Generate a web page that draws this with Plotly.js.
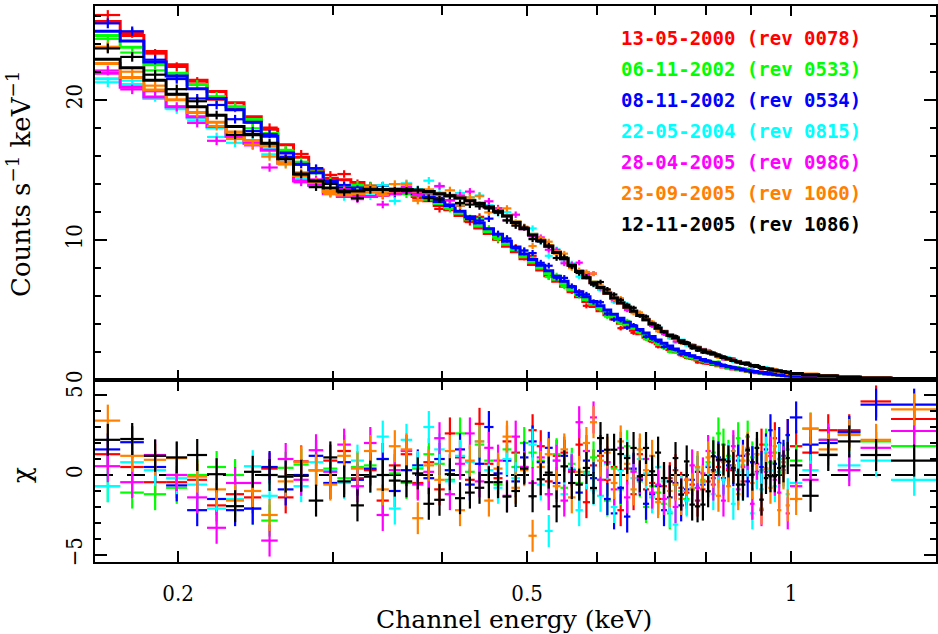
<!DOCTYPE html>
<html><head><meta charset="utf-8">
<script src="https://cdn.plot.ly/plotly-3.0.1.min.js"></script>
<style>html,body{margin:0;padding:0;background:#fff}#chart{width:938px;height:634px}</style>
</head><body><div id="chart"></div>
<script>
// ---- data ----
const binEdges = [
0.1608,0.1718,0.1828,0.1938,0.2048,0.2158,0.2268,0.2378,0.2488,0.2598,
0.2708,0.2818,0.2928,0.3038,0.3148,0.3258,0.3368,0.3478,0.3588,0.3698,
0.3808,0.3918,0.4028,0.4138,0.4248,0.4358,0.4468,0.4578,0.4688,0.4798,
0.4908,0.5018,0.5128,0.5238,0.5348,0.5458,0.5568,0.5678,0.5788,0.5898,
0.6008,0.6118,0.6228,0.6338,0.6448,0.6558,0.6668,0.6778,0.6888,0.6998,
0.7108,0.7218,0.7328,0.7438,0.7548,0.7658,0.7768,0.7878,0.7988,0.8098,
0.8208,0.8318,0.8428,0.8538,0.8648,0.8758,0.8868,0.8978,0.9088,0.9198,
0.9308,0.9418,0.9528,0.9638,0.9748,0.9858,0.9968,
1.030,1.075,1.130,1.200,1.300,1.463];

const errCounts = [
0.35,0.34,0.33,0.33,0.32,0.31,0.31,0.30,0.30,0.29,
0.28,0.27,0.27,0.27,0.27,0.27,0.27,0.27,0.27,0.26,
0.26,0.26,0.26,0.25,0.25,0.25,0.24,0.24,0.23,0.23,
0.22,0.22,0.21,0.21,0.20,0.20,0.19,0.19,0.18,0.18,
0.17,0.17,0.16,0.16,0.15,0.15,0.14,0.14,0.13,0.13,
0.12,0.12,0.12,0.11,0.11,0.10,0.10,0.10,0.09,0.09,
0.09,0.08,0.08,0.08,0.07,0.07,0.07,0.07,0.06,0.06,
0.06,0.06,0.05,0.05,0.05,0.05,
0.035,0.028,0.022,0.017,0.013,0.009];

const seriesLabels = ['13-05-2000 (rev 0078)','06-11-2002 (rev 0533)','08-11-2002 (rev 0534)',
  '22-05-2004 (rev 0815)','28-04-2005 (rev 0986)','23-09-2005 (rev 1060)','12-11-2005 (rev 1086)'];
const seriesColors = ['#ff0000','#00ff00','#0000ff','#00ffff','#ff00ff','#ff8000','#000000'];

const modelRed = [
25.6,24.6,23.45,22.5,21.4,20.6,19.8,18.8,17.9,16.8,
15.9,15.0,14.4,14.3,14.1,13.8,13.6,13.5,13.35,13.1,
12.8,12.45,12.15,11.75,11.35,10.85,10.45,10.05,9.55,9.15,
8.65,8.25,7.85,7.45,7.05,6.7,6.3,5.95,5.6,5.25,
4.95,4.65,4.35,4.05,3.8,3.55,3.3,3.05,2.8,2.58,
2.38,2.18,2.0,1.85,1.7,1.56,1.42,1.3,1.2,1.1,
1.01,0.93,0.86,0.79,0.73,0.67,0.61,0.56,0.51,0.47,
0.43,0.4,0.37,0.34,0.31,0.28,
0.24,0.2,0.16,0.12,0.09,0.07];
const modelGreen = [
24.6,23.75,22.5,21.9,21.1,20.1,19.5,18.6,17.6,16.3,
15.4,14.8,14.1,13.9,13.8,13.7,13.6,13.5,13.4,13.2,
12.9,12.6,12.3,11.9,11.5,11.0,10.6,10.2,9.7,9.3,
8.8,8.4,8.0,7.6,7.2,6.85,6.45,6.1,5.75,5.4,
5.1,4.8,4.5,4.2,3.95,3.7,3.45,3.2,2.95,2.7,
2.5,2.3,2.1,1.95,1.8,1.65,1.5,1.38,1.27,1.17,
1.07,0.98,0.9,0.83,0.76,0.7,0.64,0.58,0.53,0.49,
0.45,0.41,0.38,0.35,0.32,0.29,
0.25,0.21,0.17,0.13,0.10,0.07];
const modelBlue = [
24.9,24.2,22.7,21.7,20.8,20.1,19.3,18.4,17.4,16.2,
15.4,14.8,14.2,13.7,13.7,13.7,13.6,13.55,13.45,13.3,
13.05,12.75,12.45,12.05,11.65,11.2,10.8,10.4,9.9,9.5,
9.0,8.6,8.2,7.8,7.4,7.05,6.65,6.3,5.95,5.6,
5.3,5.0,4.7,4.4,4.12,3.86,3.6,3.35,3.1,2.85,
2.63,2.42,2.22,2.05,1.9,1.74,1.59,1.46,1.34,1.23,
1.13,1.03,0.95,0.87,0.8,0.73,0.67,0.61,0.56,0.51,
0.47,0.43,0.39,0.36,0.33,0.3,
0.26,0.22,0.17,0.13,0.1,0.07];
const modelCyan = [
21.5,21.1,20.1,19.4,18.7,18.0,17.4,16.9,16.5,15.5,
14.4,13.9,13.4,13.2,13.2,13.15,13.25,13.35,13.45,13.5,
13.45,13.35,13.2,13.05,12.85,12.65,12.4,12.1,11.75,11.3,
10.85,10.4,10.0,9.6,9.15,8.7,8.25,7.8,7.35,7.0,
6.65,6.25,5.9,5.55,5.25,4.95,4.65,4.35,4.05,3.75,
3.5,3.25,3.05,2.85,2.65,2.5,2.35,2.2,2.05,1.9,
1.76,1.64,1.53,1.43,1.33,1.23,1.14,1.06,0.98,0.91,
0.84,0.78,0.72,0.66,0.6,0.55,
0.47,0.39,0.3,0.21,0.15,0.1];
const modelMagenta = [
21.9,20.9,20.2,19.5,18.8,18.1,17.4,16.9,16.4,15.5,
14.2,13.9,13.3,13.1,13.1,13.1,13.2,13.3,13.4,13.4,
13.35,13.25,13.15,13.0,12.8,12.6,12.35,12.05,11.7,11.25,
10.8,10.35,9.95,9.55,9.1,8.65,8.2,7.75,7.3,6.95,
6.6,6.2,5.85,5.5,5.2,4.9,4.6,4.3,4.0,3.7,
3.45,3.2,3.0,2.8,2.6,2.45,2.3,2.15,2.0,1.85,
1.72,1.6,1.5,1.4,1.3,1.2,1.12,1.04,0.96,0.89,
0.82,0.76,0.7,0.64,0.59,0.54,
0.46,0.38,0.29,0.2,0.14,0.1];
const modelOrange = [
22.6,21.6,20.7,20.0,19.1,18.4,17.7,17.1,16.7,15.5,
14.6,14.1,13.45,13.2,13.3,13.4,13.45,13.5,13.55,13.5,
13.45,13.3,13.15,13.0,12.8,12.6,12.35,12.05,11.7,11.3,
10.85,10.4,10.0,9.6,9.15,8.7,8.25,7.8,7.35,7.0,
6.6,6.2,5.85,5.5,5.2,4.9,4.6,4.3,4.0,3.7,
3.45,3.2,3.0,2.8,2.6,2.45,2.3,2.15,2.0,1.85,
1.72,1.6,1.5,1.4,1.3,1.2,1.12,1.04,0.96,0.89,
0.82,0.76,0.7,0.64,0.59,0.54,
0.46,0.38,0.29,0.2,0.14,0.1];
const modelBlack = [
22.9,22.3,21.4,20.4,19.5,18.9,18.1,17.5,16.9,15.8,
14.7,14.2,13.7,13.5,13.5,13.6,13.6,13.6,13.6,13.55,
13.45,13.3,13.15,13.0,12.8,12.6,12.35,12.05,11.7,11.25,
10.8,10.35,9.95,9.55,9.1,8.65,8.2,7.75,7.3,6.95,
6.6,6.2,5.85,5.5,5.2,4.9,4.6,4.3,4.0,3.7,
3.45,3.2,3.0,2.8,2.6,2.45,2.3,2.15,2.0,1.85,
1.72,1.6,1.5,1.4,1.3,1.2,1.12,1.04,0.96,0.89,
0.82,0.76,0.7,0.64,0.59,0.54,
0.46,0.38,0.29,0.2,0.14,0.1];

const chiRed = [
1.3,0.5,-0.45,-0.45,-0.3,-1.9,-1.2,-1.4,0.4,-1.4,0.85,0.3,
0.9,1.5,-0.2,0.3,-1.6,0.6,1.3,-0.5,0.8,-0.9,2.6,1.1,-0.3,3.2,0.7,-0.2,2.1,1.4,0.5,
2.8,1.8,-0.4,1.2,1.4,0.2,1.9,-1.7,0.6,1.2,-0.3,0.5,-2.2,0.4,-1.2,1.3,-0.9,-0.5,-1.5,-0.7,-0.2,0.3,-0.8,-1.1,-0.6,-1.6,-0.9,-0.4,-0.2,0.5,0.9,0.3,
0.6,1.2,-0.4,1.5,0.8,0.2,1.9,0.4,1.2,2.3,1.0,0.3,2.5,
1.8,1.4,2.8,2.8,4.6,3.5];
const chiGreen = [
-0.7,-1.1,-1.2,-0.8,0.0,0.5,0.0,-2.1,-2.85,0.45,0.65,0.3,
0.4,-0.2,0.5,0.6,1.0,0.1,-0.5,0.4,1.3,0.7,-0.3,2.6,0.2,1.9,0.9,-0.6,1.6,0.5,2.0,
1.4,0.9,-1.2,1.3,-0.8,0.7,-0.5,0.2,1.1,-0.3,-1.6,0.4,-0.9,1.8,0.3,-0.4,-2.0,-0.7,-1.1,-1.8,-2.4,-0.6,-1.0,-1.5,-0.9,0.2,-0.3,0.8,1.4,2.6,1.9,1.2,
1.5,2.3,0.6,2.4,1.1,1.7,0.3,1.9,0.8,1.4,0.2,1.0,1.6,
0.9,2.9,2.2,2.6,2.1,1.8];
const chiBlue = [
1.6,2.05,0.5,-0.65,-2.2,-1.5,-2.2,-2.1,0.5,-0.9,0.0,1.2,
-0.5,0.8,-0.3,0.4,1.0,-1.0,0.3,0.6,-0.2,1.0,0.3,1.6,-0.6,0.7,3.0,0.1,0.9,-0.4,1.1,
2.1,0.8,1.7,-0.5,1.2,0.3,-1.1,0.9,-0.2,1.5,-1.5,-2.4,-0.8,-2.6,0.4,-0.3,-1.8,-1.2,-0.7,-2.2,-1.4,-0.5,-1.9,-0.9,-0.3,0.2,-0.6,0.5,0.3,1.1,-0.2,0.6,
0.3,0.9,1.2,-0.4,0.8,1.3,0.5,1.6,2.8,0.7,2.0,1.2,2.5,
3.6,1.9,2.0,2.7,4.4,4.4];
const chiCyan = [
-0.7,0.8,0.3,-0.2,-0.6,-2.1,-1.5,0.55,-1.3,-0.1,-0.7,0.8,
0.3,-0.5,0.9,-0.1,2.4,-2.1,2.2,0.5,3.0,1.6,-0.4,1.2,0.8,2.1,0.3,-0.8,1.0,-0.2,0.5,
1.9,-0.6,-3.5,0.9,-1.2,0.4,-2.2,0.1,-0.9,-1.3,0.7,-2.0,0.3,1.2,-0.2,1.0,0.1,-1.4,0.5,-0.4,-2.3,-3.1,-1.0,-1.6,-0.8,0.4,-0.5,0.6,-1.2,0.2,-0.3,1.0,
-1.8,0.2,-0.6,0.9,-2.4,0.1,-0.9,1.4,0.3,-0.7,1.0,0.2,-1.2,
-0.5,0.3,1.3,0.6,0.9,-0.3];
const chiMagenta = [
0.55,-0.45,1.25,0.0,-1.4,-3.3,-0.5,-0.5,-4.1,1.0,-0.3,1.55,
0.2,1.9,-0.7,2.0,-2.5,0.3,1.5,-0.6,0.2,2.3,-1.2,0.7,2.6,-0.4,1.7,0.9,-1.3,2.4,0.5,
-0.5,1.1,-1.2,0.9,-1.6,0.3,3.3,1.5,3.6,-0.3,0.8,-0.9,1.7,-1.4,0.2,-0.2,1.0,-1.1,-0.6,-1.5,-0.4,-2.0,-1.2,-0.3,0.6,-0.8,0.1,1.5,-0.6,0.9,-1.6,0.4,
1.8,-0.9,0.5,1.3,-1.8,0.7,-2.2,0.2,1.4,-0.3,-1.1,0.8,-2.4,
-0.7,-0.3,2.2,0.3,1.7,2.75];
const chiOrange = [
3.4,1.2,0.95,1.05,-0.1,-0.9,-1.6,-1.0,-2.5,-0.4,0.8,0.3,
-0.6,1.2,0.4,1.5,-0.9,1.8,1.6,-2.7,0.6,-0.3,1.5,-2.2,0.9,2.1,-1.6,0.4,2.4,-0.8,0.3,
-3.8,0.5,1.3,-0.7,1.6,-1.4,0.2,2.0,3.3,0.9,1.4,-0.5,2.1,0.7,-0.9,1.6,0.3,1.2,-1.7,-0.2,-1.0,-0.6,-1.5,-0.3,-0.9,0.5,-0.4,1.1,0.2,-1.3,0.8,-0.7,
0.6,-1.2,0.9,1.7,-0.5,1.3,-2.1,0.4,-0.8,1.8,-2.2,0.1,-1.9,
-1.5,2.9,1.6,2.5,2.2,4.1];
const chiBlack = [
2.2,2.25,1.2,1.1,1.25,0.05,-1.95,0.2,0.0,-0.1,-0.05,-1.6,
1.1,-0.4,-1.9,-0.1,0.0,-0.35,-0.4,0.1,-1.8,-1.55,0.05,-1.45,-1.1,-0.8,-0.45,-0.45,-1.35,-1.0,0.4,
-1.33,-0.27,0.15,-1.96,0.54,-0.5,-0.6,0.44,-0.81,2.31,1.58,1.58,1.31,1.06,1.69,-0.08,1.69,0.23,1.4,-0.19,-0.4,1.06,-1.23,0.85,-1.85,-1.96,-1.85,-1.02,1.17,0.96,0.96,0.85,
0.44,-0.6,-0.6,1.58,0.02,1.69,-1.54,-0.19,-0.08,-0.08,0.44,0.54,1.06,
0.6,-1.3,1.25,2.1,1.25,0.9];

const xMajorVals = [0.2,0.5,1];
const xMajorText = ['0.2','0.5','1'];
const xMinorVals = [0.3,0.4,0.6,0.7,0.8,0.9];

// ---- build ----
const models = [modelRed,modelGreen,modelBlue,modelCyan,modelMagenta,modelOrange,modelBlack];
const chis = [chiRed,chiGreen,chiBlue,chiCyan,chiMagenta,chiOrange,chiBlack];
const nBins = binEdges.length - 1;
models.concat(chis,[errCounts]).forEach((a,k)=>{ if(a.length!==nBins) throw new Error('length mismatch in array '+k+': '+a.length+' vs '+nBins); });

const centers = [], halfW = [];
for (let i=0;i<nBins;i++){ centers.push((binEdges[i]+binEdges[i+1])/2); halfW.push((binEdges[i+1]-binEdges[i])/2); }

const hiddenMarker = c => ({size:1, opacity:0, color:c, line:{width:0}});
const traces = [];
for (let s=0;s<7;s++){
  const c = seriesColors[s], m = models[s], q = chis[s];
  traces.push({x: binEdges, y: m.concat([m[m.length-1]]), mode:'lines', line:{shape:'hv', color:c, width:3},
    xaxis:'x', yaxis:'y', hoverinfo:'skip', showlegend:false});
  traces.push({x: centers, y: m.map((v,i)=>v + q[i]*errCounts[i]), mode:'markers', marker:hiddenMarker(c),
    error_x:{type:'data', array:halfW, width:0, thickness:2.2, color:c},
    error_y:{type:'data', array:errCounts, width:0, thickness:2.2, color:c},
    xaxis:'x', yaxis:'y', hoverinfo:'skip', showlegend:false});
}
for (let s=0;s<7;s++){
  const c = seriesColors[s];
  traces.push({x: centers, y: chis[s], mode:'markers', marker:hiddenMarker(c),
    error_x:{type:'data', array:halfW, width:0, thickness:2.2, color:c},
    error_y:{type:'constant', value:1, width:0, thickness:2.2, color:c},
    xaxis:'x2', yaxis:'y2', hoverinfo:'skip', showlegend:false});
}

const L = 95, R = 936, T = 6, B = 562, W = 938, H = 634;
const px2x = p => (p - L)/(R - L);
const py2y = p => (B - p)/(B - T);
const split = py2y(380);
const serifC = 'DejaVu Serif Condensed, DejaVu Serif, serif';
const serif = 'DejaVu Serif, serif';
const mono = 'DejaVu Sans Mono, monospace';
const xr = [Math.log10(binEdges[0]), Math.log10(binEdges[nBins])];

const axCommon = {showline:true, linewidth:2.4, linecolor:'#000', mirror:'ticks', ticks:'inside',
  tickwidth:2, tickcolor:'#000', showgrid:false, zeroline:false,
  tickfont:{family:serifC, size:22, color:'#000'}};

const annotations = seriesLabels.map((t,i)=>({xref:'paper', yref:'paper', x:px2x(863), y:py2y(38 + 31*i),
  xanchor:'right', yanchor:'middle', showarrow:false, text:'<b>'+t+'</b>',
  font:{family:mono, size:19, color:seriesColors[i]}}));
annotations.push({xref:'paper', yref:'paper', x:px2x(19), y:py2y(184), textangle:-90, showarrow:false,
  xanchor:'center', yanchor:'middle', text:'Counts s<sup>\u22121</sup> keV<sup>\u22121</sup>',
  font:{family:serif, size:26, color:'#000'}});
annotations.push({xref:'paper', yref:'paper', x:px2x(22), y:py2y(475), textangle:-90, showarrow:false,
  xanchor:'center', yanchor:'middle', text:'\u03c7', font:{family:serif, size:26, color:'#000'}});
annotations.push({xref:'paper', yref:'paper', x:px2x(514), y:py2y(619), showarrow:false,
  xanchor:'center', yanchor:'middle', text:'Channel energy (keV)', font:{family:serif, size:25, color:'#000'}});

const xMinor = {tickmode:'array', tickvals:xMinorVals, ticklen:10, tickwidth:2, tickcolor:'#000', ticks:'inside'};
const layout = {
  width:W, height:H, margin:{l:L, r:W-R, t:T, b:H-B}, paper_bgcolor:'#fff', plot_bgcolor:'#fff',
  showlegend:false, hovermode:false,
  xaxis: Object.assign({}, axCommon, {type:'log', range:xr, anchor:'y', domain:[0,1],
    tickmode:'array', tickvals:xMajorVals, ticktext:xMajorText, showticklabels:false, ticklen:10,
    minor:Object.assign({}, xMinor, {ticklen:9})}),
  yaxis: Object.assign({}, axCommon, {domain:[split,1], range:[0,26.7], anchor:'x',
    tickmode:'linear', tick0:0, dtick:10, ticklen:12, tickangle:-90, ticklabelstandoff:2,
    minor:{tickmode:'linear', tick0:0, dtick:2, ticklen:6, tickwidth:2, tickcolor:'#000', ticks:'inside'}}),
  xaxis2: Object.assign({}, axCommon, {type:'log', range:xr, anchor:'y2', domain:[0,1],
    tickmode:'array', tickvals:xMajorVals, ticktext:xMajorText, ticklen:11, ticklabelstandoff:10,
    minor:xMinor}),
  yaxis2: Object.assign({}, axCommon, {domain:[0,split], range:[-5.44,5.94], anchor:'x2',
    tickmode:'linear', tick0:0, dtick:5, ticklen:12, tickangle:-90, ticklabelstandoff:2,
    minor:{tickmode:'linear', tick0:0, dtick:1, ticklen:6, tickwidth:2, tickcolor:'#000', ticks:'inside'}}),
  shapes:[{type:'line', xref:'paper', x0:0, x1:1, yref:'y2', y0:0, y1:0, layer:'below',
    line:{color:'#000', width:2, dash:'18px,14px'}}],
  annotations: annotations
};

Plotly.newPlot('chart', traces, layout, {displayModeBar:false, staticPlot:true});
</script>
</body></html>
